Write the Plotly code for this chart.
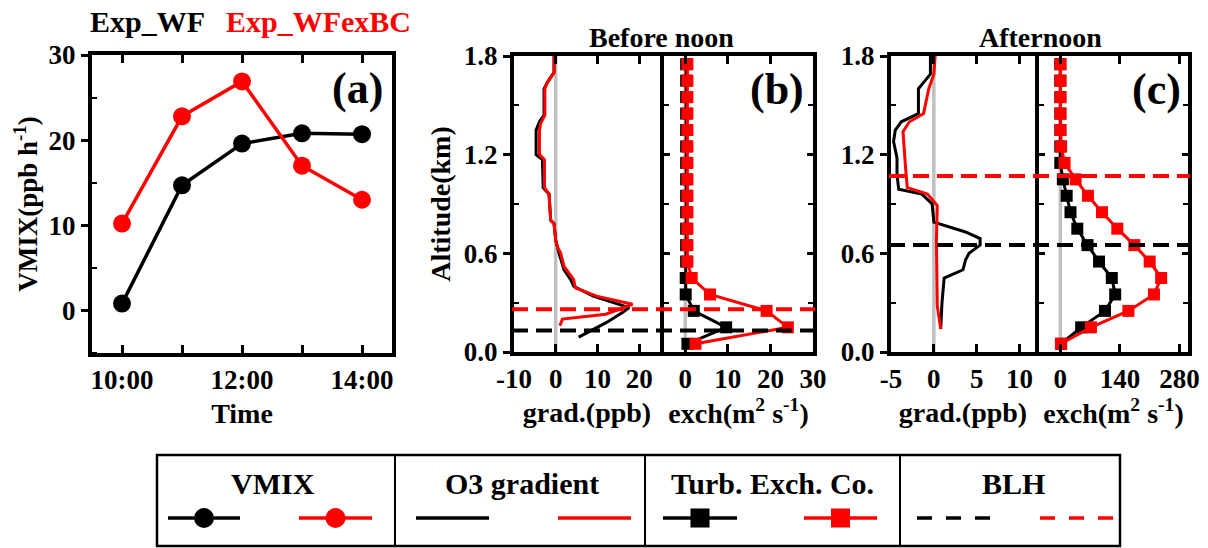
import plotly.graph_objects as go

W, H = 1208, 548
FONT = "Liberation Serif"
BLACK, RED, GREY = "#000000", "#ff0000", "#c0c0c0"

# ---------------- data ----------------
# (a) vertical mixing rate
hours = [10, 11, 12, 13, 14]
major_hours = [10, 12, 14]
hour_labels = ["10:00", "12:00", "14:00"]
vmix_wf = [0.8, 14.7, 19.6, 20.8, 20.7]
vmix_wfexbc = [10.2, 22.8, 26.9, 17.0, 13.0]

# (b) O3 gradient, before noon
grad_am_wf_alt = [0.09, 0.18, 0.24, 0.27, 0.34, 0.40, 0.44, 0.50, 0.60, 0.68, 0.78, 0.80,
                  0.96, 1.00, 1.17, 1.20, 1.35, 1.40, 1.44, 1.60, 1.64, 1.70, 1.80]
grad_am_wf = [5.5, 12.2, 16.0, 17.6, 9.0, 4.3, 3.6, 2.0, 0.8, 0.0, -0.4, -1.2,
              -1.6, -3.0, -3.2, -4.7, -4.7, -3.9, -2.8, -2.8, -2.0, -0.4, -0.4]
grad_am_bc_alt = [0.16, 0.20, 0.23, 0.29, 0.34, 0.39, 0.44, 0.48, 0.52, 0.60, 0.64, 0.68,
                  0.78, 0.80, 0.96, 1.00, 1.17, 1.20, 1.35, 1.39, 1.44, 1.60, 1.64, 1.70, 1.80]
grad_am_bc = [1.0, 1.6, 12.0, 18.4, 9.8, 4.7, 4.3, 3.1, 2.0, 1.2, 0.4, 0.0,
              -0.4, -1.2, -1.6, -2.7, -2.7, -3.9, -3.9, -3.6, -2.6, -2.6, -2.0, -0.4, -0.4]

# (c) O3 gradient, afternoon
grad_pm_wf_alt = [0.14, 0.30, 0.45, 0.50, 0.56, 0.60, 0.65, 0.69, 0.73, 0.78, 0.79, 0.90,
                  0.96, 0.99, 1.08, 1.18, 1.28, 1.35, 1.40, 1.45, 1.60, 1.69, 1.80]
grad_pm_wf = [0.8, 0.95, 1.2, 3.4, 3.7, 4.1, 5.4, 5.4, 3.7, 0.8, 0.0, -0.2,
              -1.4, -4.1, -4.3, -4.3, -4.7, -4.5, -3.8, -1.8, -1.8, -0.4, -0.4]
grad_pm_bc_alt = [0.14, 0.28, 0.68, 0.89, 0.96, 1.00, 1.12, 1.34, 1.40, 1.45, 1.60, 1.69, 1.80]
grad_pm_bc = [0.8, 0.4, 0.3, 0.4, -0.75, -3.1, -3.3, -3.6, -2.85, -1.2, -0.6, 0.0, 0.15]

# turbulent exchange coefficient (model levels)
exch_alt = [0.05, 0.15, 0.25, 0.35, 0.45, 0.55, 0.65, 0.75, 0.85,
            0.95, 1.05, 1.15, 1.25, 1.35, 1.45, 1.55, 1.65, 1.75]
exch_am_wf = [0.5, 9.6, 2.0, 0.1, 0.1, 0.2, 0.2, 0.2, 0.2,
              0.2, 0.2, 0.2, 0.2, 0.2, 0.2, 0.2, 0.2, 0.2]
exch_am_bc = [2.4, 24.1, 19.1, 5.8, 1.5, 0.5, 0.5, 0.5, 0.5,
              0.5, 0.5, 0.5, 0.5, 0.5, 0.5, 0.5, 0.5, 0.5]
exch_pm_wf = [2, 49, 105, 129, 121, 91, 64, 40, 24,
              15, 6, 0, 0, 0, 0, 0, 0, 0]
exch_pm_bc = [1.5, 72, 160, 220, 237, 210, 174, 134, 98,
              65, 36, 10, 2, 0.5, 0.5, 0.5, 0.5, 0.5]

# boundary layer heights (km)
blh_am_wf, blh_am_bc = 0.13, 0.26
blh_pm_wf, blh_pm_bc = 0.65, 1.07


def fx(px):
    return px / W


def fy(py):
    return 1 - py / H


def fnt(size, color=BLACK):
    return dict(family=FONT, size=size, color=color, weight="bold")


def ax(**kw):
    d = dict(showline=True, linecolor=BLACK, linewidth=4, showgrid=False, zeroline=False,
             automargin=False, ticks="inside", ticklen=8, tickwidth=3, tickcolor=BLACK,
             tickfont=fnt(27))
    d.update(kw)
    return d


def minor(**kw):
    d = dict(ticks="inside", ticklen=5, tickwidth=2, tickcolor=BLACK)
    d.update(kw)
    return d


fig = go.Figure()

# ---- (a) VMIX ----
fig.add_trace(go.Scatter(x=hours, y=vmix_wf, mode="lines+markers", xaxis="x", yaxis="y",
                         line=dict(color=BLACK, width=3.5),
                         marker=dict(symbol="circle", size=18, color=BLACK)))
fig.add_trace(go.Scatter(x=hours, y=vmix_wfexbc, mode="lines+markers", xaxis="x", yaxis="y",
                         line=dict(color=RED, width=3.5),
                         marker=dict(symbol="circle", size=18, color=RED)))


# ---- profile panels ----
def zero_line(xa, ya):
    fig.add_trace(go.Scatter(x=[0, 0], y=[0, 1.8], mode="lines", xaxis=xa, yaxis=ya,
                             line=dict(color=GREY, width=3.5)))


def grad_line(x, y, color, xa, ya):
    fig.add_trace(go.Scatter(x=x, y=y, mode="lines", xaxis=xa, yaxis=ya,
                             line=dict(color=color, width=3)))


def exch_line(x, color, xa, ya):
    fig.add_trace(go.Scatter(x=x, y=exch_alt, mode="lines+markers", xaxis=xa, yaxis=ya,
                             line=dict(color=color, width=3),
                             marker=dict(symbol="square", size=12, color=color)))


zero_line("x2", "y2")
grad_line(grad_am_wf, grad_am_wf_alt, BLACK, "x2", "y2")
grad_line(grad_am_bc, grad_am_bc_alt, RED, "x2", "y2")
zero_line("x3", "y3")
exch_line(exch_am_wf, BLACK, "x3", "y3")
exch_line(exch_am_bc, RED, "x3", "y3")

zero_line("x4", "y4")
grad_line(grad_pm_wf, grad_pm_wf_alt, BLACK, "x4", "y4")
grad_line(grad_pm_bc, grad_pm_bc_alt, RED, "x4", "y4")
zero_line("x5", "y5")
exch_line(exch_pm_wf, BLACK, "x5", "y5")
exch_line(exch_pm_bc, RED, "x5", "y5")

# BLH dashed lines across both halves of each panel
shapes = []
for (x0, x1, yref, h, c) in [(512, 815, "y2", blh_am_wf, BLACK), (512, 815, "y2", blh_am_bc, RED),
                             (889, 1190, "y4", blh_pm_wf, BLACK), (889, 1190, "y4", blh_pm_bc, RED)]:
    shapes.append(dict(type="line", xref="paper", yref=yref, x0=fx(x0), x1=fx(x1), y0=h, y1=h,
                       line=dict(color=c, width=4, dash="16px,8px"), layer="above"))

# ---- legend box (own pixel-like axis) ----
LX, LY = "x6", "y6"
shapes.append(dict(type="rect", xref=LX, yref=LY, x0=157, x1=1120, y0=455, y1=546,
                   line=dict(color=BLACK, width=2.5)))
for xd in [395, 645, 900]:
    shapes.append(dict(type="line", xref=LX, yref=LY, x0=xd, x1=xd, y0=455, y1=546,
                       line=dict(color=BLACK, width=2)))

leg_y = 518
samples = [  # (x0, x1, color, dash, symbol)
    (168, 240, BLACK, "solid", "circle"), (299, 372, RED, "solid", "circle"),
    (416, 489, BLACK, "solid", None), (558, 631, RED, "solid", None),
    (663, 737, BLACK, "solid", "square"), (804, 877, RED, "solid", "square"),
    (917, 990, BLACK, "15px,14px", None), (1040, 1113, RED, "15px,14px", None),
]
for x0, x1, c, dash, sym in samples:
    fig.add_trace(go.Scatter(x=[x0, x1], y=[leg_y, leg_y], mode="lines", xaxis=LX, yaxis=LY,
                             line=dict(color=c, width=3.5, dash=dash)))
    if sym:
        fig.add_trace(go.Scatter(x=[(x0 + x1) / 2], y=[leg_y], mode="markers", xaxis=LX, yaxis=LY,
                                 marker=dict(symbol=sym, size=20 if sym == "circle" else 19, color=c)))

annotations = []


def note(text, px, py, size, color=BLACK, xanchor="center"):
    annotations.append(dict(text=text, x=fx(px), y=fy(py), xref="paper", yref="paper",
                            xanchor=xanchor, yanchor="middle", showarrow=False,
                            font=fnt(size, color)))


note("Exp_WF", 88, 21, 30, BLACK, "left")
note("Exp_WFexBC", 224, 21, 30, RED, "left")
note("(a)", 357, 88, 44)
note("(b)", 777, 90, 44)
note("(c)", 1156, 89, 44)
note("Before noon", 661, 38, 28)
note("Afternoon", 1040, 38, 28)
for txt, px in [("VMIX", 273), ("O3 gradient", 522), ("Turb. Exch. Co.", 772), ("BLH", 1013)]:
    note(txt, px, 483, 30)

yprof = dict(range=[0, 1.8], tickvals=[0, 0.6, 1.2, 1.8],
             minor=minor(tickvals=[0.3, 0.9, 1.5]))
fig.update_layout(
    width=W, height=H, margin=dict(l=0, r=0, t=0, b=0, autoexpand=False),
    paper_bgcolor="white", plot_bgcolor="rgba(0,0,0,0)", showlegend=False,
    xaxis=ax(domain=[fx(92), fx(392)], range=[9.5, 14.5], tickvals=major_hours,
             ticktext=hour_labels, mirror="ticks", anchor="y",
             minor=minor(tickvals=[11, 13], ticklen=8, tickwidth=3),
             title=dict(text="Time", font=fnt(28), standoff=10)),
    yaxis=ax(domain=[fy(353), fy(55)], range=[-5, 30], tickvals=[0, 10, 20, 30],
             ticks="outside", ticklen=7, mirror=True, anchor="x",
             minor=minor(tickvals=[-5, 5, 15, 25]),
             title=dict(text="VMIX(ppb h<sup>-1</sup>)", font=fnt(27), standoff=4)),
    xaxis2=ax(domain=[fx(514), fx(660)], range=[-10, 25], tickvals=[-10, 0, 10, 20],
              ticktext=["-10", "0", "10", "20"], mirror="ticks", anchor="y2",
              title=dict(text="grad.(ppb)", font=fnt(28), standoff=10)),
    yaxis2=ax(domain=[fy(352), fy(56)], ticktext=["0.0", "0.6", "1.2", "1.8"],
              ticks="outside", ticklen=7, mirror=False, anchor="x2",
              title=dict(text="Altitude(km)", font=fnt(28), standoff=6), **yprof),
    xaxis3=ax(domain=[fx(664), fx(813)], range=[-5, 30], tickvals=[0, 10, 20, 30],
              mirror="ticks", anchor="y3",
              title=dict(text="exch(m<sup>2</sup> s<sup>-1</sup>)", font=fnt(28), standoff=10)),
    yaxis3=ax(domain=[fy(352), fy(56)], showticklabels=False, ticklen=6, mirror="ticks",
              anchor="x3", **yprof),
    xaxis4=ax(domain=[fx(891), fx(1035)], range=[-5, 11.8], tickvals=[-5, 0, 5, 10],
              ticktext=["-5", "0", "5", "10"], mirror="ticks", anchor="y4",
              title=dict(text="grad.(ppb)", font=fnt(28), standoff=10)),
    yaxis4=ax(domain=[fy(352), fy(56)], ticktext=["0.0", "0.6", "1.2", "1.8"],
              ticks="outside", ticklen=7, mirror=False, anchor="x4", **yprof),
    xaxis5=ax(domain=[fx(1039), fx(1188)], range=[-50, 300], tickvals=[0, 140, 280],
              mirror="ticks", anchor="y5",
              title=dict(text="exch(m<sup>2</sup> s<sup>-1</sup>)", font=fnt(28), standoff=10)),
    yaxis5=ax(domain=[fy(352), fy(56)], showticklabels=False, ticklen=6, mirror="ticks",
              anchor="x5", **yprof),
    xaxis6=dict(domain=[fx(150), fx(1130)], range=[150, 1130], visible=False, anchor="y6"),
    yaxis6=dict(domain=[0, fy(450)], range=[548, 450], visible=False, anchor="x6"),
    shapes=shapes, annotations=annotations,
)

fig.write_html("out.html")
